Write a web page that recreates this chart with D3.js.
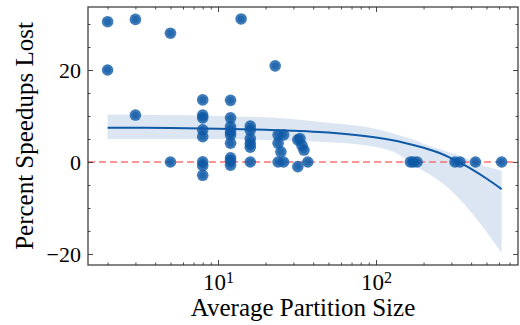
<!DOCTYPE html>
<html>
<head>
<meta charset="utf-8">
<script src="https://cdn.jsdelivr.net/npm/d3@7"></script>
<style>
  body { margin: 0; background: #fff; }
  svg { display: block; font-family: "Liberation Serif", "DejaVu Serif", serif; }
</style>
</head>
<body>
<div id="chart"></div>
<script>
// scatter points (average partition size, percent speedups lost)
const partitionSize = [
  2, 2,
  3, 3,
  5, 5,
  8, 8, 8, 8, 8, 8, 8, 8,
  12, 12, 12, 12, 12, 12, 12, 12, 12,
  14,
  16, 16, 16, 16, 16, 16,
  23,
  24, 24, 24, 25, 26, 26,
  32, 32, 33, 34, 35, 37,
  165, 172, 182,
  316, 340,
  426,
  624
];
const speedupLost = [
  30.5, 20.0,
  31.0, 10.2,
  28.0, 0,
  13.5, 10.2, 9.6, 7.0, 5.5, 0.05, -0.8, -2.9,
  13.4, 9.6, 7.7, 6.6, 5.9, 4.1, 0.9, 0.3, -0.7,
  31.1,
  7.8, 6.9, 5.1, 4.0, 3.2, 0,
  20.9,
  5.9, 4.1, 0, 2.2, 5.9, 0,
  4.8, -1.0, 5.1, 3.6, 2.6, 0,
  0, 0, 0,
  0, 0,
  0,
  0
];

// regression line and confidence band
const fitX    = [2, 5, 10, 20, 50, 100, 150, 200, 250, 300, 350, 400, 500, 624];
const fitY    = [7.45, 7.38, 7.25, 7.0, 6.4, 5.3, 4.2, 3.1, 2.0, 0.8, -0.4, -1.5, -3.6, -5.9];
const ciX     = [2, 10, 20, 51, 83, 135, 172, 220, 280, 357, 455, 624];
const ciUpper = [10.3, 10.0, 9.7, 8.5, 7.7, 6.0, 4.9, 3.4, 2.3, 1.1, -0.5, -1.9];
const ciLower = [5.0, 5.0, 4.8, 4.3, 3.7, 1.9, -0.6, -2.8, -5.4, -9.0, -13.3, -19.8];

const yTicks = [-20, 0, 20];
const yMinor = [-15, -10, -5, 5, 10, 15, 25, 30];
const xTicks = [10, 100];
const xMinor = [2, 3, 4, 5, 6, 7, 8, 9, 20, 30, 40, 50, 60, 70, 80, 90, 200, 300, 400, 500, 600, 700];

const width = 520, height = 325;
const margin = { top: 7, right: 2, bottom: 60, left: 88 };
const innerW = width - margin.left - margin.right;
const innerH = height - margin.top - margin.bottom;

const svg = d3.select('#chart').append('svg')
  .attr('width', width)
  .attr('height', height);

const g = svg.append('g')
  .attr('transform', `translate(${margin.left},${margin.top})`);

const x = d3.scaleLog().domain([1.503, 792]).range([0, innerW]);
const y = d3.scaleLinear().domain([-22.4, 33.7]).range([innerH, 0]);

const blue = '#0f5aa6';

// confidence band
const band = d3.area()
  .x(d => x(d.x))
  .y0(d => y(d.lo))
  .y1(d => y(d.hi))
  .curve(d3.curveMonotoneX);
g.append('path')
  .datum(ciX.map((v, i) => ({ x: v, lo: ciLower[i], hi: ciUpper[i] })))
  .attr('fill', blue)
  .attr('fill-opacity', 0.15)
  .attr('d', band);

// zero reference line
g.append('line')
  .attr('x1', 0).attr('x2', innerW)
  .attr('y1', y(0)).attr('y2', y(0))
  .attr('stroke', '#ff5050')
  .attr('stroke-opacity', 0.8)
  .attr('stroke-width', 1.4)
  .attr('stroke-dasharray', '7,4');

// fit line
const line = d3.line()
  .x(d => x(d.x))
  .y(d => y(d.y))
  .curve(d3.curveMonotoneX);
g.append('path')
  .datum(fitX.map((v, i) => ({ x: v, y: fitY[i] })))
  .attr('fill', 'none')
  .attr('stroke', blue)
  .attr('stroke-width', 2)
  .attr('d', line);

// points
const pts = partitionSize.map((v, i) => ({ x: v, y: speedupLost[i] }));
const dots = g.selectAll('.dot').data(pts).enter().append('g').attr('class', 'dot')
  .attr('transform', d => `translate(${x(d.x)},${y(d.y)})`);
dots.append('circle').attr('r', 5.8).attr('fill', blue).attr('fill-opacity', 0.8);
dots.append('circle').attr('r', 3.4).attr('fill', blue).attr('fill-opacity', 0.55);

// axes: ticks point inward on all four sides
const axisColor = '#333';
function styleAxis(sel) {
  sel.select('.domain').remove();
  sel.selectAll('.tick line').attr('stroke', axisColor).attr('stroke-width', 0.9);
}

g.append('g').attr('transform', `translate(0,${innerH})`)
  .call(d3.axisBottom(x).tickValues(xMinor).tickSize(-2.5).tickFormat(''))
  .call(styleAxis);
g.append('g')
  .call(d3.axisTop(x).tickValues(xMinor).tickSize(-2.5).tickFormat(''))
  .call(styleAxis);
g.append('g')
  .call(d3.axisTop(x).tickValues(xTicks).tickSize(-5).tickFormat(''))
  .call(styleAxis);

const xAxis = g.append('g').attr('transform', `translate(0,${innerH})`)
  .call(d3.axisBottom(x).tickValues(xTicks).tickSize(-5).tickPadding(9).tickFormat(''))
  .call(styleAxis);
xAxis.selectAll('.tick text').each(function(d) {
  const t = d3.select(this)
    .attr('fill', '#000')
    .attr('font-size', 23)
    .attr('font-family', '"Liberation Serif", serif');
  t.append('tspan').text('10');
  t.append('tspan').attr('dy', '-0.45em').attr('font-size', 16).text(Math.round(Math.log10(d)));
});

g.append('g')
  .call(d3.axisLeft(y).tickValues(yMinor).tickSize(-2.5).tickFormat(''))
  .call(styleAxis);
g.append('g').attr('transform', `translate(${innerW},0)`)
  .call(d3.axisRight(y).tickValues(yMinor).tickSize(-2.5).tickFormat(''))
  .call(styleAxis);
g.append('g').attr('transform', `translate(${innerW},0)`)
  .call(d3.axisRight(y).tickValues(yTicks).tickSize(-5).tickFormat(''))
  .call(styleAxis);
g.append('g')
  .call(d3.axisLeft(y).tickValues(yTicks).tickSize(-5).tickPadding(7)
    .tickFormat(d => d < 0 ? '\u2212' + Math.abs(d) : d))
  .call(styleAxis)
  .selectAll('.tick text')
  .attr('fill', '#000')
  .attr('font-size', 22)
  .attr('font-family', '"Liberation Serif", serif');

// frame
g.append('rect')
  .attr('width', innerW).attr('height', innerH)
  .attr('fill', 'none')
  .attr('stroke', axisColor)
  .attr('stroke-width', 1.2);

// axis titles
svg.append('text')
  .attr('x', margin.left + innerW / 2)
  .attr('y', 316)
  .attr('text-anchor', 'middle')
  .attr('font-size', 25)
  .text('Average Partition Size');

svg.append('text')
  .attr('transform', `translate(33,${margin.top + innerH / 2}) rotate(-90)`)
  .attr('text-anchor', 'middle')
  .attr('font-size', 25)
  .text('Percent Speedups Lost');
</script>
</body>
</html>
